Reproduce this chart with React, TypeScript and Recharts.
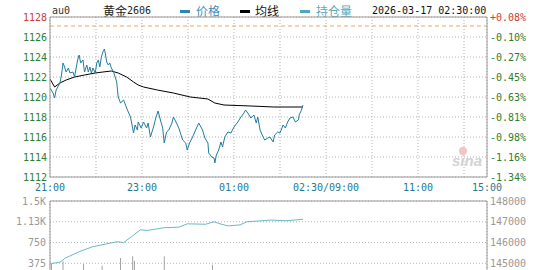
import React from 'react';
import { ComposedChart, Line, Bar, XAxis, YAxis, CartesianGrid, ReferenceLine } from 'recharts';

// minutes after 21:00
const priceMinutes = [0, 4, 6, 8, 13, 15, 17, 19, 21, 24, 26, 30, 32, 36, 38, 40, 43, 45, 48, 50, 52, 54, 56, 59, 61, 63, 65, 67, 69, 71, 72, 74, 76, 78, 80, 83, 85, 87, 89, 92, 96, 101, 105, 109, 111, 114, 115, 119, 122, 126, 128, 131, 135, 138, 141, 144, 147, 149, 152, 155, 159, 161, 165, 168, 173, 177, 179, 182, 186, 190, 194, 199, 202, 206, 207, 211, 214, 215, 217, 220, 223, 225, 228, 232, 236, 240, 245, 249, 253, 255, 258, 262, 266, 269, 271, 274, 278, 280, 284, 287, 291, 293, 297, 300, 304, 307, 310, 313, 317, 320, 324, 325, 328, 330];
const priceValues = [1120.9, 1120.4, 1119.9, 1120.7, 1121.4, 1122.2, 1123.4, 1123.0, 1122.5, 1122.9, 1122.4, 1122.5, 1122.0, 1123.7, 1124.2, 1123.4, 1123.7, 1122.5, 1123.2, 1122.5, 1123.0, 1122.4, 1122.9, 1122.4, 1123.4, 1123.7, 1123.0, 1124.0, 1124.5, 1124.8, 1124.4, 1123.5, 1123.2, 1123.4, 1122.9, 1122.5, 1122.0, 1121.5, 1120.0, 1119.4, 1119.7, 1118.7, 1118.0, 1116.4, 1117.2, 1116.7, 1117.5, 1116.9, 1117.5, 1116.9, 1117.4, 1116.0, 1117.0, 1117.9, 1118.6, 1117.7, 1116.9, 1115.4, 1116.5, 1116.7, 1117.4, 1118.0, 1117.4, 1116.9, 1115.7, 1115.4, 1114.7, 1115.4, 1116.0, 1116.7, 1117.4, 1116.7, 1115.9, 1115.4, 1114.4, 1114.0, 1113.9, 1113.4, 1114.2, 1114.7, 1115.5, 1115.0, 1116.0, 1116.5, 1116.4, 1117.0, 1117.5, 1118.0, 1118.4, 1118.7, 1118.4, 1117.9, 1118.2, 1117.4, 1118.0, 1116.7, 1116.0, 1115.7, 1115.9, 1116.0, 1115.5, 1116.2, 1116.5, 1116.4, 1117.2, 1116.9, 1117.5, 1117.9, 1118.0, 1117.5, 1117.7, 1118.2, 1118.7, 1119.2];

const avgMinutes = [0, 6, 13, 21, 32, 45, 59, 69, 80, 89, 100, 109, 115, 122, 140, 161, 183, 206, 215, 227, 262, 292, 330];
const avgValues = [1121.8, 1121.0, 1121.4, 1121.7, 1122.0, 1122.2, 1122.4, 1122.5, 1122.6, 1122.4, 1122.0, 1121.5, 1121.2, 1121.0, 1120.7, 1120.4, 1120.0, 1119.8, 1119.4, 1119.2, 1119.1, 1119.0, 1119.0];

const oiMinutes = [0, 2, 13, 20, 39, 56, 88, 96, 107, 118, 127, 148, 168, 179, 203, 214, 220, 232, 248, 257, 288, 308, 321, 330];
const oiValues = [144980, 144990, 145050, 145250, 145570, 145800, 146040, 146000, 146300, 146610, 146580, 146710, 146740, 146900, 146880, 147000, 146920, 146800, 146850, 147000, 147080, 147050, 147090, 147120];

const volMinutes = [2, 17, 44, 68, 92, 108, 110, 149, 212];
const volValues = [370, 410, 360, 330, 470, 500, 420, 500, 350];

const prevClose = 1127.1;
const priceTicks = [1112, 1114, 1116, 1118, 1120, 1122, 1124, 1126, 1128];
const pctLabels = ['-1.34%', '-1.16%', '-0.98%', '-0.81%', '-0.63%', '-0.45%', '-0.27%', '-0.10%', '+0.08%'];
const gridMinutes = [0, 60, 120, 180, 240, 300, 360, 420, 480, 540, 570];
const timeTicks = [0, 120, 240, 360, 480, 570];
const timeLabels = ['21:00', '23:00', '01:00', '02:30/09:00', '11:00', '15:00'];
// the 0 / 144000 row lies below the visible window, so it has no label
const volTicks = [0, 375, 750, 1125, 1500];
const volLabels = ['', '375', '750', '1.13K', '1.5K'];
const oiTicks = [144000, 145000, 146000, 147000, 148000];
const oiLabels = ['', '145000', '146000', '147000', '148000'];

const buildRows = (series: { key: string; t: number[]; v: number[] }[]) => {
  const map = new Map<number, any>();
  series.forEach(s =>
    s.t.forEach((t, i) => {
      const row = map.get(t) ?? { t };
      row[s.key] = s.v[i];
      map.set(t, row);
    })
  );
  return [...map.values()].sort((a, b) => a.t - b.t);
};

const priceRows = buildRows([
  { key: 'price', t: priceMinutes, v: priceValues },
  { key: 'avg', t: avgMinutes, v: avgValues },
]);
const volRows = buildRows([
  { key: 'vol', t: volMinutes, v: volValues },
  { key: 'oi', t: oiMinutes, v: oiValues },
]);

const mono = '"DejaVu Sans Mono", "Liberation Mono", monospace';
const cjk = '"Noto Sans CJK SC", sans-serif';
const frame = '#9a9a9a';
const grid = '#b4b4b4';
const up = '#c83c3c';
const down = '#2e7d32';

const PriceTick = ({ x, y, payload }: any) => (
  <text x={x} y={y} dy="0.35em" textAnchor="end" fontSize={10} fontFamily={mono} fill={payload.value > prevClose ? up : down}>
    {payload.value}
  </text>
);

const PctTick = ({ x, y, payload }: any) => (
  <text x={x} y={y} dy="0.35em" textAnchor="start" fontSize={10} fontFamily={mono} fill={payload.value > prevClose ? up : down}>
    {pctLabels[priceTicks.indexOf(payload.value)]}
  </text>
);

const TimeTick = ({ x, y, payload }: any) => {
  const i = timeTicks.indexOf(payload.value);
  if (i < 0) return <g />;
  return (
    <text x={x} y={y + 14} textAnchor="middle" fontSize={10} fontFamily={mono} fill="#1f7a90">
      {timeLabels[i]}
    </text>
  );
};

const VolTick = ({ x, y, payload }: any) => {
  const text = volLabels[volTicks.indexOf(payload.value)];
  if (!text) return <g />;
  return (
    <text x={x} y={y} dy="0.35em" textAnchor="end" fontSize={10} fontFamily={mono} fill="#999">
      {text}
    </text>
  );
};

const OiTick = ({ x, y, payload }: any) => {
  const text = oiLabels[oiTicks.indexOf(payload.value)];
  if (!text) return <g />;
  return (
    <text x={x} y={y} dy="0.35em" textAnchor="start" fontSize={10} fontFamily={mono} fill="#999">
      {text}
    </text>
  );
};

const Dash = ({ left, color }: { left: number; color: string }) => (
  <div style={{ position: 'absolute', left, top: 10, width: 10, height: 3, background: color }} />
);

const label = (left: number, text: string, color: string, font: string, size: number) => (
  <span style={{ position: 'absolute', left, top: 5, lineHeight: '12px', fontSize: size, fontFamily: font, color, whiteSpace: 'nowrap' }}>
    {text}
  </span>
);

export default function App() {
  return (
    <div style={{ position: 'relative', width: 534, height: 270, overflow: 'hidden', background: '#fff' }}>
      <style>{'body{margin:0}'}</style>

      {label(52, 'au0', '#333', mono, 10)}
      {label(103, '黄金', '#222', cjk, 12)}
      {label(127, '2606', '#222', mono, 10)}
      <Dash left={180} color="#2d86b4" />
      {label(196, '价格', '#3f8fbf', cjk, 12)}
      <Dash left={240} color="#000" />
      {label(255, '均线', '#111', cjk, 12)}
      <Dash left={300} color="#4fa8c0" />
      {label(316, '持仓量', '#5aa8ba', cjk, 12)}
      {label(372, '2026-03-17 02:30:00', '#111', mono, 10)}

      <div style={{ position: 'absolute', left: 0, top: 0 }}>
        <ComposedChart width={534} height={193} data={priceRows} margin={{ top: 17, right: 0, bottom: 0, left: 0 }}>
          <CartesianGrid stroke={grid} strokeDasharray="1 2" />
          <XAxis
            dataKey="t"
            type="number"
            domain={[0, 570]}
            ticks={gridMinutes}
            allowDataOverflow
            height={16}
            tickSize={0}
            tickMargin={0}
            tick={<TimeTick />}
            axisLine={{ stroke: frame }}
            interval={0}
          />
          <YAxis
            type="number"
            domain={[1112, 1128]}
            ticks={priceTicks}
            allowDataOverflow
            width={50}
            tickSize={0}
            tickMargin={3}
            tick={<PriceTick />}
            axisLine={{ stroke: frame }}
            interval={0}
          />
          <YAxis
            yAxisId="r"
            orientation="right"
            type="number"
            domain={[1112, 1128]}
            ticks={priceTicks}
            allowDataOverflow
            width={47}
            tickSize={0}
            tickMargin={3}
            tick={<PctTick />}
            axisLine={{ stroke: frame }}
            interval={0}
          />
          <ReferenceLine y={1128} stroke={frame} />
          <ReferenceLine y={prevClose} stroke="#e0aa60" strokeDasharray="4 3" />
          <Line dataKey="avg" yAxisId="r" stroke="#000" strokeWidth={1} dot={false} connectNulls isAnimationActive={false} />
          <Line dataKey="price" stroke="#237c9e" strokeWidth={1} dot={false} connectNulls isAnimationActive={false} />
        </ComposedChart>
      </div>

      <div style={{ position: 'absolute', left: 0, top: 190 }}>
        <ComposedChart width={534} height={110} data={volRows} margin={{ top: 11, right: 0, bottom: 16, left: 0 }}>
          <CartesianGrid stroke={grid} strokeDasharray="1 2" />
          <XAxis
            dataKey="t"
            type="number"
            domain={[0, 570]}
            ticks={gridMinutes}
            allowDataOverflow
            height={0}
            tick={false}
            tickLine={false}
            axisLine={false}
            interval={0}
          />
          <YAxis
            type="number"
            domain={[0, 1500]}
            ticks={volTicks}
            allowDataOverflow
            width={50}
            tickSize={0}
            tickMargin={4}
            tick={<VolTick />}
            axisLine={{ stroke: frame }}
            interval={0}
          />
          <YAxis
            yAxisId="oi"
            orientation="right"
            type="number"
            domain={[144000, 148000]}
            ticks={oiTicks}
            allowDataOverflow
            width={47}
            tickSize={0}
            tickMargin={3}
            tick={<OiTick />}
            axisLine={{ stroke: frame }}
            interval={0}
          />
          <ReferenceLine y={1500} stroke={frame} />
          <Bar dataKey="vol" fill="#7a7a7a" barSize={1} isAnimationActive={false} />
          <Line dataKey="oi" yAxisId="oi" stroke="#6cb8c4" strokeWidth={1} dot={false} connectNulls isAnimationActive={false} />
        </ComposedChart>
      </div>

      <div style={{ position: 'absolute', left: 459, top: 147, width: 8, height: 8, borderRadius: 4, background: '#f2c4c4' }} />
      <span style={{ position: 'absolute', left: 452, top: 153, fontSize: 15, fontStyle: 'italic', fontWeight: 'bold', fontFamily: 'Arial, "Liberation Sans", sans-serif', color: '#d2d2d2', lineHeight: '16px' }}>
        sina
      </span>
    </div>
  );
}
